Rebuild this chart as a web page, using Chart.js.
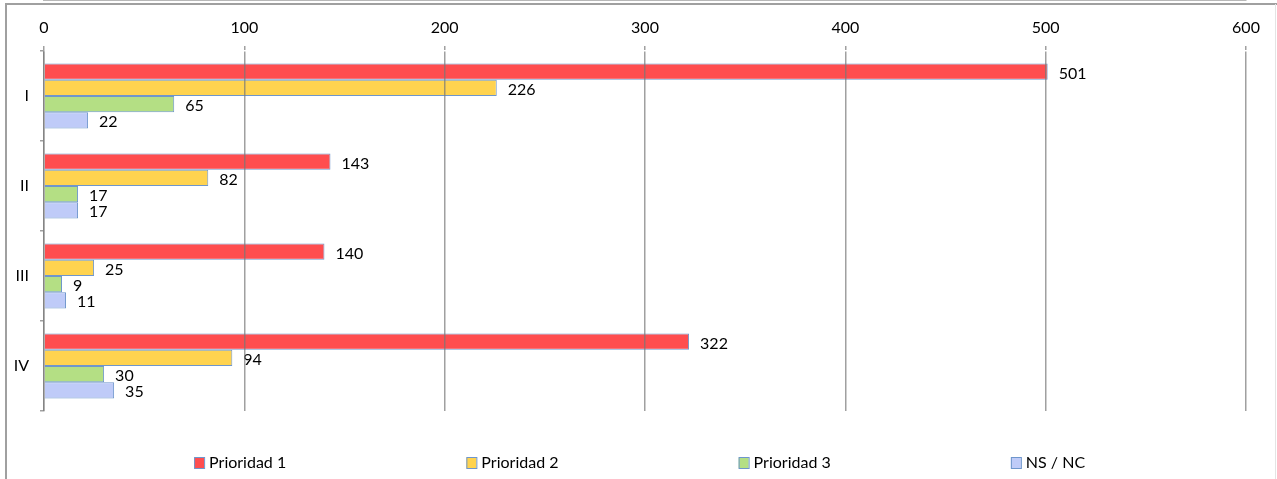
<!DOCTYPE html>
<html><head><meta charset="utf-8">
<script src="https://cdn.jsdelivr.net/npm/chart.js@4.4.0/dist/chart.umd.min.js"></script>
<style>html,body{margin:0;padding:0;background:#fff;overflow:hidden}#wrap{width:1277px;height:479px;position:relative}</style>
</head><body><div id="wrap"><canvas id="c" width="1277" height="479"></canvas></div>
<script>
const categories = ['I', 'II', 'III', 'IV'];
const seriesNames = ['Prioridad 1', 'Prioridad 2', 'Prioridad 3', 'NS / NC'];
const prioridad1 = [501, 143, 140, 322];
const prioridad2 = [226, 82, 25, 94];
const prioridad3 = [65, 17, 9, 30];
const nsnc = [22, 17, 11, 35];
const xTickValues = [0, 100, 200, 300, 400, 500, 600];

const fills = ['#FF4D4F', '#FFD34F', '#B4DF84', '#BFCBF8'];
const edge = '#6E96CC';
const FONT = 'Lato, "Open Sans", sans-serif';
const gridCol = 'rgba(120,120,120,0.7)';

const frame = {
  id: 'frame',
  beforeDraw(chart) {
    const c = chart.ctx;
    c.save();
    c.fillStyle = '#fff';
    c.fillRect(0, 0, chart.width, chart.height);
    c.strokeStyle = '#a0a0a0';
    c.lineWidth = 2;
    c.beginPath();
    c.moveTo(6, chart.height);
    c.lineTo(6, 4);
    c.lineTo(chart.width, 4);
    c.stroke();
    c.strokeStyle = '#e4e4e4';
    c.lineWidth = 1;
    c.beginPath();
    c.moveTo(chart.width - 1.5, 4);
    c.lineTo(chart.width - 1.5, chart.height);
    c.stroke();
    c.restore();
  }
};

const valueLabels = {
  id: 'valueLabels',
  afterDatasetsDraw(chart) {
    const c = chart.ctx;
    c.save();
    c.font = '16px ' + FONT;
    c.fillStyle = '#000';
    c.textAlign = 'left';
    c.textBaseline = 'middle';
    chart.data.datasets.forEach((ds, di) => {
      const meta = chart.getDatasetMeta(di);
      meta.data.forEach((el, i) => {
        c.fillText(String(ds.data[i]), el.x + 11, el.y + 2);
      });
    });
    c.restore();
  }
};

const customLegend = {
  id: 'customLegend',
  afterDraw(chart) {
    const c = chart.ctx;
    c.save();
    c.font = '16px ' + FONT;
    c.textBaseline = 'middle';
    c.textAlign = 'left';
    const start = chart.width * 0.1520;
    const step = chart.width * 0.2132;
    const yMid = chart.height - 16;
    chart.data.datasets.forEach((ds, i) => {
      const x = start + i * step;
      c.fillStyle = ds.backgroundColor;
      c.fillRect(x, yMid - 5.5, 10, 11);
      c.strokeStyle = edge;
      c.lineWidth = 1;
      c.strokeRect(x + 0.5, yMid - 5.5, 10, 11);
      c.fillStyle = '#000';
      c.fillText(ds.label, x + 15, yMid);
    });
    c.restore();
  }
};

const seriesData = [prioridad1, prioridad2, prioridad3, nsnc];

new Chart(document.getElementById('c'), {
  type: 'bar',
  data: {
    labels: categories,
    datasets: seriesNames.map((n, i) => ({
      label: n,
      data: seriesData[i],
      backgroundColor: fills[i],
      borderColor: edge,
      borderWidth: 1,
      categoryPercentage: 0.72,
      barPercentage: 1.0
    }))
  },
  options: {
    indexAxis: 'y',
    responsive: false,
    animation: false,
    layout: { padding: { left: 0, right: 31, top: 0, bottom: 68 } },
    plugins: {
      legend: { display: false },
      tooltip: { enabled: false }
    },
    scales: {
      x: {
        position: 'top',
        min: 0,
        max: 600,
        afterBuildTicks(scale) { scale.ticks = xTickValues.map(v => ({ value: v })); },
        afterFit(scale) { scale.height = 51; },
        ticks: { font: { size: 16, family: FONT }, color: '#000', padding: 9 },
        grid: { color: gridCol, lineWidth: 1.5, tickLength: 5, z: 1 },
        border: { display: true, color: gridCol, width: 1.5 }
      },
      y: {
        afterFit(scale) { scale.width = 44; },
        ticks: { font: { size: 16, family: FONT }, color: '#000', padding: 11 },
        grid: { offset: true, drawOnChartArea: false, tickLength: 4, color: gridCol, lineWidth: 1.5 },
        border: { display: true, color: gridCol, width: 1.5 }
      }
    }
  },
  plugins: [frame, valueLabels, customLegend]
});
</script>
</body></html>
